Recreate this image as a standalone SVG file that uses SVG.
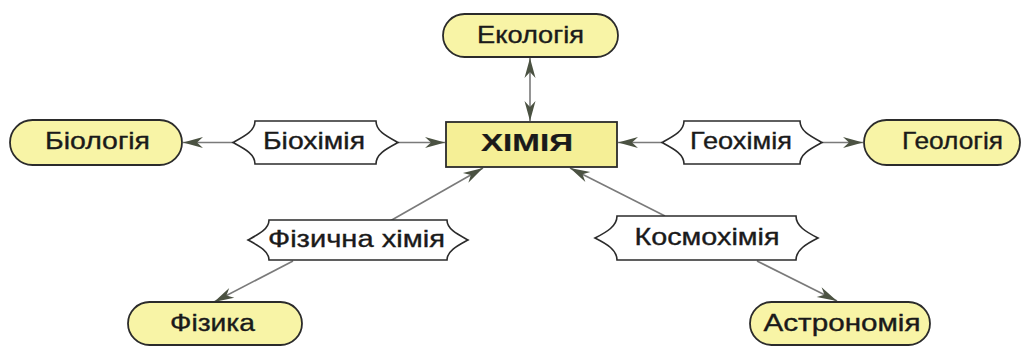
<svg xmlns="http://www.w3.org/2000/svg" width="1022" height="346" viewBox="0 0 1022 346">
<style>
.pill{fill:#f8f4a6;stroke:#2b2b2b;stroke-width:1.8}
.core{fill:#f5ef96;stroke:#2b2b2b;stroke-width:1.8}
.br{fill:#ffffff;stroke:#2b2b2b;stroke-width:1.6}
.t{font-family:"Liberation Sans",Arial,sans-serif;font-size:23px;fill:#1a1a1a;stroke:#1a1a1a;stroke-width:0.35;text-anchor:middle}
.b{font-weight:bold;font-size:23px;stroke-width:0.2}
.c{stroke:#7a7a7a;stroke-width:1.6;fill:none;marker-end:url(#ah)}
</style>
<defs>
<marker id="ah" viewBox="-21 -7 22 14" refX="0" refY="0" markerWidth="22" markerHeight="14" markerUnits="userSpaceOnUse" orient="auto-start-reverse">
<path d="M0,0 L-20,-5.5 L-14,0 L-20,5.5 Z" fill="#4b5242"/>
</marker>
</defs>
<rect width="1022" height="346" fill="#ffffff"/>
<g id="connectors">
<line class="c" x1="530" y1="58" x2="530" y2="121" style="marker-start:url(#ah)"/>
<line class="c" x1="233" y1="142.5" x2="183" y2="142.5"/>
<line class="c" x1="398" y1="142.5" x2="445" y2="142.5"/>
<line class="c" x1="662" y1="142.5" x2="618" y2="142.5"/>
<line class="c" x1="822" y1="142.5" x2="863" y2="142.5"/>
<line class="c" x1="390" y1="221" x2="483" y2="168"/>
<line class="c" x1="293" y1="261" x2="214" y2="302"/>
<line class="c" x1="665" y1="216" x2="570" y2="168"/>
<line class="c" x1="757" y1="261" x2="837" y2="301"/>
</g>
<g id="ekolohiia">
<rect class="pill" x="443" y="14" width="175" height="43" rx="21.5"/>
<text class="t" x="530.5" y="42.5" textLength="107" lengthAdjust="spacingAndGlyphs">Екологія</text>
</g>
<g id="khimiia">
<rect class="core" x="446" y="122" width="171" height="45"/>
<text class="t b" x="527" y="151" textLength="92" lengthAdjust="spacingAndGlyphs">ХІМІЯ</text>
</g>
<g id="biolohiia">
<rect class="pill" x="10" y="120" width="172" height="45" rx="22.5"/>
<text class="t" x="97.5" y="149" textLength="105" lengthAdjust="spacingAndGlyphs">Біологія</text>
</g>
<g id="biokhimiia">
<path class="br" d="M255,121 L376,121 C376,131 386,136 398,142.5 C386,149 376,154 376,164 L255,164 C255,154 245,149 233,142.5 C245,136 255,131 255,121 Z"/>
<text class="t" x="314" y="149" textLength="102" lengthAdjust="spacingAndGlyphs">Біохімія</text>
</g>
<g id="heokhimiia">
<path class="br" d="M684,121 L800,121 C800,131 810,136 822,142.5 C810,149 800,154 800,164 L684,164 C684,154 674,149 662,142.5 C674,136 684,131 684,121 Z"/>
<text class="t" x="741" y="149" textLength="102" lengthAdjust="spacingAndGlyphs">Геохімія</text>
</g>
<g id="heolohiia">
<rect class="pill" x="864" y="120" width="156" height="45" rx="22.5"/>
<text class="t" x="952.5" y="149" textLength="101" lengthAdjust="spacingAndGlyphs">Геологія</text>
</g>
<g id="fizychna-khimiia">
<path class="br" d="M269,220 L447,220 C447,229 457,234 468,240 C457,246 447,251 447,260 L269,260 C269,251 259,246 248,240 C259,234 269,229 269,220 Z"/>
<text class="t" x="356.5" y="247" textLength="177" lengthAdjust="spacingAndGlyphs">Фізична хімія</text>
</g>
<g id="fizyka">
<rect class="pill" x="128" y="302" width="174" height="43" rx="21.5"/>
<text class="t" x="212.5" y="330.5" textLength="85" lengthAdjust="spacingAndGlyphs">Фізика</text>
</g>
<g id="kosmokhimiia">
<path class="br" d="M617,216 L796,216 C796,226 806,232 818,238 C806,244 796,250 796,260 L617,260 C617,250 607,244 595,238 C607,232 617,226 617,216 Z"/>
<text class="t" x="707" y="245" textLength="145" lengthAdjust="spacingAndGlyphs">Космохімія</text>
</g>
<g id="astronomiia">
<rect class="pill" x="750" y="302" width="180" height="43" rx="21.5"/>
<text class="t" x="842" y="330.5" textLength="157" lengthAdjust="spacingAndGlyphs">Астрономія</text>
</g>
</svg>
